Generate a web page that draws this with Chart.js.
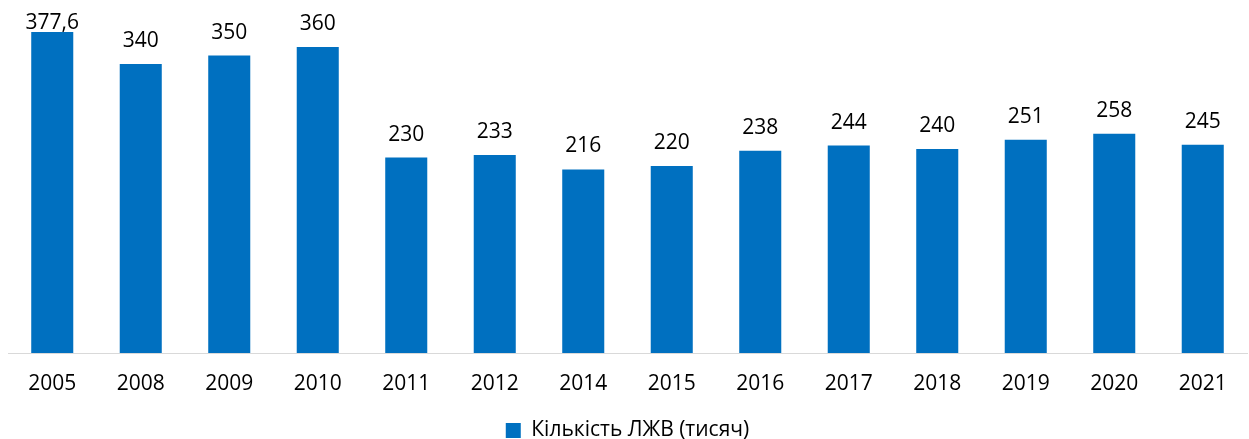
<!DOCTYPE html>
<html>
<head>
<meta charset="utf-8">
<script src="https://cdn.jsdelivr.net/npm/chart.js@4"></script>
<style>
  html, body { margin: 0; padding: 0; background: #fff; }
  #wrap { width: 1249px; height: 439px; }
</style>
</head>
<body>
<div id="wrap"><canvas id="grafico"></canvas></div>
<script>
// Роки та кількість ЛЖВ (тисяч)
const roky = ['2005', '2008', '2009', '2010', '2011', '2012', '2014', '2015', '2016', '2017', '2018', '2019', '2020', '2021'];
const kilkist = [377.6, 340, 350, 360, 230, 233, 216, 220, 238, 244, 240, 251, 258, 245];
const nazvaSerii = 'Кількість ЛЖВ (тисяч)';

const shrift = '"Open Sans", "DejaVu Sans", sans-serif';

// підписи значень над стовпчиками
const pidpysy = {
    id: 'pidpysy',
    afterDatasetsDraw(chart) {
        const ctx = chart.ctx;
        const meta = chart.getDatasetMeta(0);
        ctx.save();
        ctx.font = '21px ' + shrift;
        ctx.fillStyle = '#000';
        ctx.textAlign = 'center';
        ctx.textBaseline = 'alphabetic';
        meta.data.forEach(function(bar, i) {
            const tekst = String(kilkist[i]).replace('.', ',');
            const y = Math.max(bar.y - 17, chart.chartArea.top + 16);
            ctx.fillText(tekst, bar.x, y);
        });
        ctx.restore();
    }
};

const ctx = document.getElementById('grafico').getContext('2d');
new Chart(ctx, {
    type: 'bar',
    data: {
        labels: roky,
        datasets: [{
            label: nazvaSerii,
            data: kilkist,
            backgroundColor: '#0070C0',
            barPercentage: 0.475,
            categoryPercentage: 1
        }]
    },
    options: {
        responsive: true,
        maintainAspectRatio: false,
        animation: false,
        layout: { padding: { left: 8, right: 2, top: 13, bottom: -12 } },
        plugins: {
            legend: {
                position: 'bottom',
                labels: {
                    boxWidth: 15,
                    boxHeight: 15,
                    color: '#000',
                    font: { size: 21, family: shrift },
                    padding: 2
                }
            },
            tooltip: { enabled: false }
        },
        scales: {
            x: {
                grid: { display: false },
                border: { display: true, color: '#d9d9d9', width: 1 },
                ticks: {
                    color: '#000',
                    font: { size: 21, family: shrift },
                    padding: 10,
                    maxRotation: 0
                },
                afterFit(scale) {
                    scale.height = 65;
                }
            },
            y: {
                display: false,
                min: 0,
                max: 400
            }
        }
    },
    plugins: [pidpysy]
});
</script>
</body>
</html>
